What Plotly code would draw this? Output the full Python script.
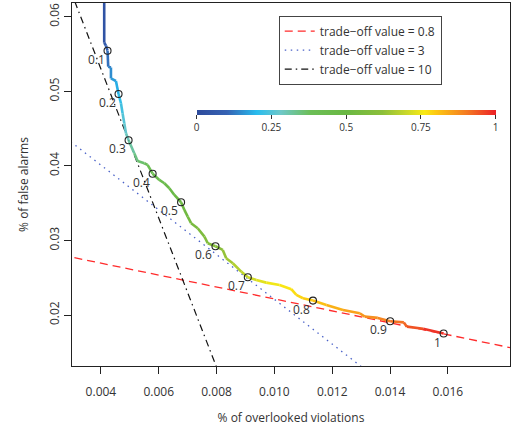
import plotly.graph_objects as go
from plotly.colors import sample_colorscale

# ---- data ----
curve_x = [0.004114, 0.004114, 0.004173, 0.004229, 0.004253, 0.004347, 0.004347, 0.004520,
           0.004610, 0.004693, 0.004749, 0.004808, 0.004867, 0.004957, 0.005154, 0.005269,
           0.005501, 0.005615, 0.005789, 0.006021, 0.006194, 0.006367, 0.006541, 0.006773,
           0.006887, 0.007002, 0.007119, 0.007348, 0.007581, 0.007695, 0.007962, 0.008215,
           0.008333, 0.008562, 0.008853, 0.009081, 0.009373, 0.009719, 0.010180, 0.010586,
           0.010759, 0.010988, 0.011335, 0.011799, 0.012374, 0.012953, 0.013126, 0.013577,
           0.014004, 0.014478, 0.014583, 0.015147, 0.015854]
curve_y = [0.06492, 0.05651, 0.05614, 0.05544, 0.05330, 0.05319, 0.05172, 0.05138,
           0.04964, 0.04839, 0.04705, 0.04571, 0.04437, 0.04343, 0.04169, 0.04066,
           0.04035, 0.04012, 0.03895, 0.03811, 0.03767, 0.03700, 0.03610, 0.03512,
           0.03409, 0.03319, 0.03231, 0.03164, 0.03051, 0.02962, 0.02922, 0.02873,
           0.02761, 0.02694, 0.02582, 0.02507, 0.02470, 0.02434, 0.02403, 0.02346,
           0.02269, 0.02225, 0.02193, 0.02135, 0.02068, 0.02024, 0.01978, 0.01961,
           0.01917, 0.01901, 0.01844, 0.01816, 0.01751]
curve_t = [0.00, 0.07, 0.08, 0.10, 0.13, 0.135, 0.16, 0.17,
           0.20, 0.22, 0.24, 0.26, 0.28, 0.30, 0.33, 0.35,
           0.37, 0.38, 0.40, 0.42, 0.44, 0.46, 0.48, 0.50,
           0.52, 0.53, 0.55, 0.56, 0.58, 0.59, 0.60, 0.62,
           0.64, 0.66, 0.68, 0.70, 0.72, 0.74, 0.76, 0.77,
           0.78, 0.79, 0.80, 0.82, 0.84, 0.86, 0.87, 0.88,
           0.90, 0.92, 0.93, 0.96, 1.00]

circle_x = [0.004229, 0.004610, 0.004957, 0.005789, 0.006773, 0.007962, 0.009081, 0.011335, 0.014004, 0.015854]
circle_y = [0.05544, 0.04964, 0.04343, 0.03895, 0.03512, 0.02922, 0.02507, 0.02193, 0.01917, 0.01751]
circle_labels = ["0.1", "0.2", "0.3", "0.4", "0.5", "0.6", "0.7", "0.8", "0.9", "1"]

tradeoff_values = [0.8, 3, 10]
tradeoff_intercepts = [0.03015, 0.0521, 0.093]
tradeoff_names = ["trade\u2212off value = 0.8", "trade\u2212off value = 3", "trade\u2212off value = 10"]

colorbar_ticks = [0, 0.25, 0.5, 0.75, 1]
colorbar_ticktext = ["0", "0.25", "0.5", "0.75", "1"]

x_range = [0.003, 0.01815]
y_range = [0.01316, 0.06184]

# ---- styles ----
colorscale = [[0.0, "#2e4b9c"], [0.1, "#3562b3"], [0.2, "#28bcee"], [0.28, "#6ec8c9"],
              [0.38, "#6cbe56"], [0.5, "#6ab843"], [0.62, "#8cbf3a"], [0.7, "#c9d82a"],
              [0.76, "#f9ea14"], [0.8, "#fdc812"], [0.9, "#f47c22"], [1.0, "#ec2127"]]
line_styles = [dict(color="#ff2b2b", dash="8px,5px", width=1.3),
               dict(color="#4a62c8", dash="1.5px,4.5px", width=1.3),
               dict(color="#111111", dash="7px,4px,1.5px,4px", width=1.2)]
FONT = "Open Sans"
TXT = "#333333"

fig = go.Figure()

# trade-off lines (span wider than axes; clipped by the plot area)
for v, c, name, st in zip(tradeoff_values, tradeoff_intercepts, tradeoff_names, line_styles):
    xs = [0.0, 0.03]
    ys = [c - v * xx for xx in xs]
    fig.add_trace(go.Scatter(x=xs, y=ys, mode="lines", name=name, line=st, showlegend=True))

# coloured curve, segment by segment
for i in range(len(curve_x) - 1):
    tm = (curve_t[i] + curve_t[i + 1]) / 2
    col = sample_colorscale(colorscale, [tm])[0]
    fig.add_trace(go.Scatter(x=curve_x[i:i + 2], y=curve_y[i:i + 2], mode="lines",
                             line=dict(color=col, width=2.6), showlegend=False,
                             hoverinfo="skip"))

# circles
fig.add_trace(go.Scatter(x=circle_x, y=circle_y, mode="markers", showlegend=False,
                         marker=dict(symbol="circle-open", size=7,
                                     line=dict(color="#222222", width=1.1), color="#222222")))

# colorbar carrier
fig.add_trace(go.Scatter(x=[None, None], y=[None, None], mode="markers", showlegend=False,
                         marker=dict(color=[0, 1], cmin=0, cmax=1, colorscale=colorscale,
                                     showscale=True,
                                     colorbar=dict(orientation="h", x=0.626, xanchor="center",
                                                   y=0.7052, yanchor="top", yref="paper",
                                                   len=299, lenmode="pixels", thickness=5,
                                                   outlinewidth=0, xpad=0, ypad=0,
                                                   tickvals=colorbar_ticks, ticktext=colorbar_ticktext,
                                                   ticks="outside", ticklen=4, tickwidth=1,
                                                   tickcolor="#333333",
                                                   tickfont=dict(family=FONT, size=10, color=TXT)))))

for x, y, lab in zip(circle_x, circle_y, circle_labels):
    fig.add_annotation(x=x, y=y, text=lab, showarrow=False, xanchor="right", yanchor="top",
                       xshift=-1, yshift=2, font=dict(family=FONT, size=12, color=TXT))

axis_common = dict(showline=True, linecolor="#222222", linewidth=1, mirror=True,
                   ticks="outside", ticklen=7, tickcolor="#222222", showgrid=False,
                   zeroline=False, automargin=False,
                   tickfont=dict(family=FONT, size=12, color=TXT))

fig.update_layout(
    width=516, height=426,
    margin=dict(l=72, r=6, t=3, b=60),
    paper_bgcolor="white", plot_bgcolor="white",
    font=dict(family=FONT, size=12, color=TXT),
    xaxis=dict(range=x_range, tickvals=[0.004, 0.006, 0.008, 0.010, 0.012, 0.014, 0.016],
               tickformat=".3f", ticklabelstandoff=8,
               title=dict(text="% of overlooked violations",
                          font=dict(family=FONT, size=12, color=TXT)),
               **axis_common),
    yaxis=dict(range=y_range, tickvals=[0.02, 0.03, 0.04, 0.05, 0.06], tickformat=".2f",
               tickangle=-90,
               title=dict(text="% of false alarms",
                          font=dict(family=FONT, size=12, color=TXT)),
               **axis_common),
    legend=dict(x=0.472, y=0.965, xanchor="left", yanchor="top",
                bordercolor="#444444", borderwidth=1, bgcolor="white",
                font=dict(family=FONT, size=12, color=TXT), tracegroupgap=0),
)

fig.write_html("out.html", config={"displayModeBar": False},
               post_script="document.body.style.margin='0px';")
